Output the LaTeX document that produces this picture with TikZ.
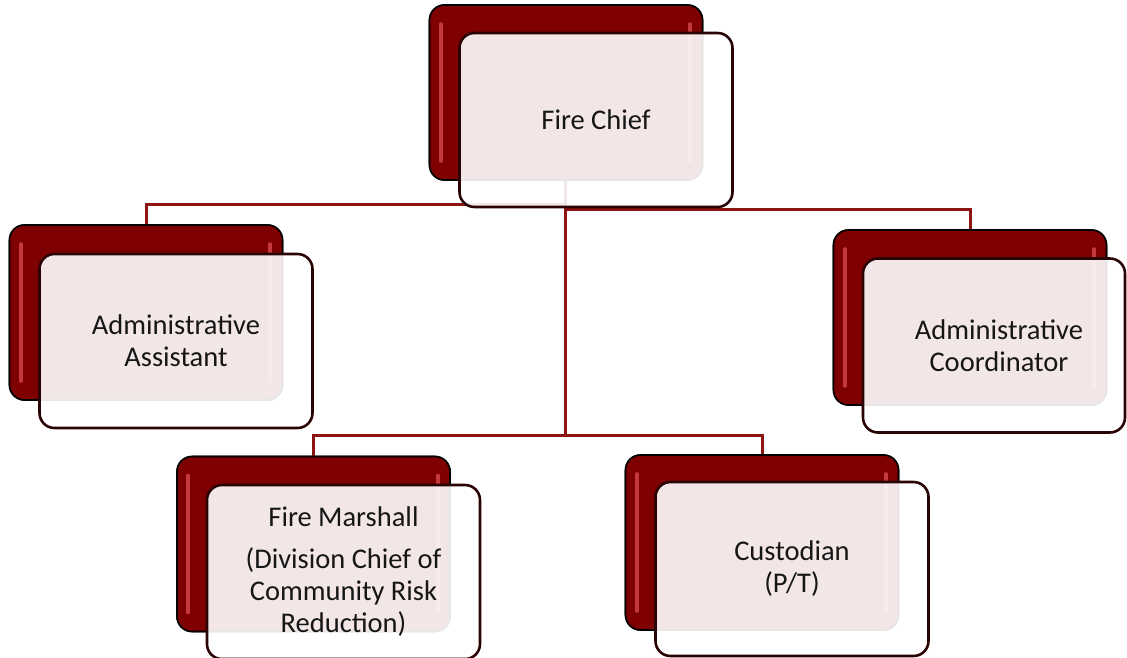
\documentclass[tikz,border=0pt]{standalone}
\usepackage{fontspec}
\setmainfont{Carlito}
\begin{document}
\begin{tikzpicture}[x=1pt,y=-1pt,
  backbox/.style={draw=black,line width=1.6pt,fill=backred,rounded corners=15pt,
    minimum width=273pt,minimum height=175pt,inner sep=0pt},
  frontbox/.style={draw=frontedge,line width=2.6pt,fill=white,fill opacity=0.9,text opacity=1,
    rounded corners=15pt,minimum width=273pt,minimum height=174pt,inner sep=0pt,
    align=center,font=\fontsize{28.5}{32}\selectfont,text=textgray},
  conn/.style={draw=connred,line width=3pt},
  glare/.style={draw=glarered,line width=4pt,line cap=round}]
\definecolor{backred}{HTML}{7F0000}
\definecolor{frontedge}{HTML}{2A0404}
\definecolor{connred}{HTML}{8E1414}
\definecolor{glarered}{HTML}{C43A3A}
\definecolor{textgray}{HTML}{161616}
\useasboundingbox (0,0) rectangle (1127,657);

% back boxes (nodes for connectors)
\path
  node[backbox] (chiefB)  at (566,92.5) {}
  node[backbox] (assistB) at (146,312.5) {}
  node[backbox] (coordB)  at (970,317.5) {}
  node[backbox] (marshB)  at (313.5,544) {}
  node[backbox] (custB)   at (762,542.5) {};

% connectors
\draw[conn] ([xshift=-1pt]chiefB.south) -- ++(0,24) -| (assistB.north);
\draw[conn] ([xshift=-1pt]chiefB.south) -- ++(0,29) -| (coordB.north);
\draw[conn] ([xshift=-1pt]chiefB.south) -- ++(0,255) -| (marshB.north);
\draw[conn] ([xshift=-1pt]chiefB.south) -- ++(0,255) -| (custB.north);

% redraw back boxes above connectors, with glare strips
\foreach \n in {chiefB,assistB,coordB,marshB,custB}{
  \node[backbox] at (\n) {};
  \draw[glare] ([xshift=12pt,yshift=-20pt]\n.north west) -- ([xshift=12pt,yshift=20pt]\n.south west);
  \draw[glare] ([xshift=-13pt,yshift=-20pt]\n.north east) -- ([xshift=-13pt,yshift=20pt]\n.south east);
}

% front boxes
\node[frontbox] (chiefF)  at (596,120) {Fire Chief};
\node[frontbox] (assistF) at (176,341) {Administrative\\Assistant};
\node[frontbox,minimum width=262pt] (coordF) at (994,345.5) {\hspace*{10pt}Administrative\\\hspace*{10pt}Coordinator};
\node[frontbox] (marshF)  at (343.5,572) {Fire Marshall\\[10pt](Division Chief of\\Community Risk\\Reduction)};
\node[frontbox] (custF)   at (792,569) {Custodian\\(P/T)};
\end{tikzpicture}
\end{document}
